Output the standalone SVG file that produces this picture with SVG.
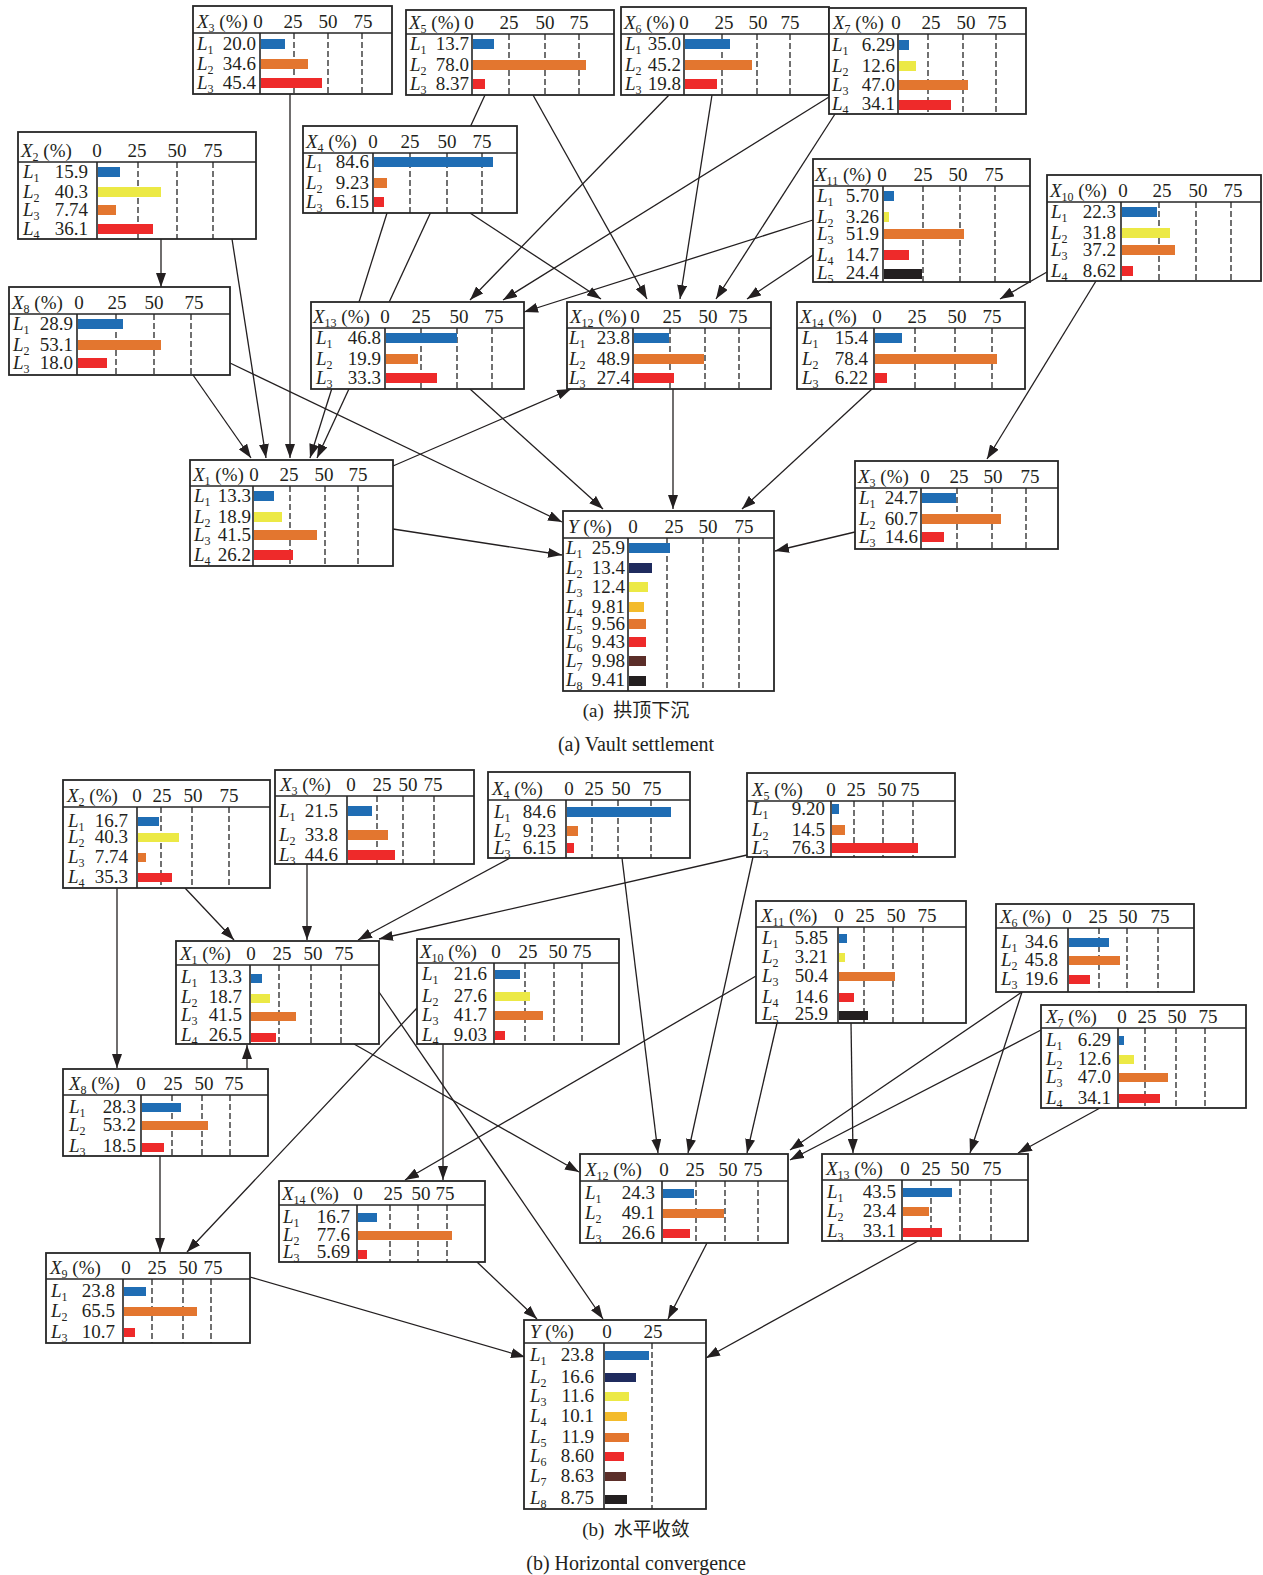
<svg xmlns="http://www.w3.org/2000/svg" width="1263" height="1575" viewBox="0 0 1263 1575">
<defs>
<style>
.box{fill:#fff;stroke:#262626;stroke-width:1.8}
.rule{fill:none;stroke:#262626;stroke-width:1.6}
.dash{fill:none;stroke:#262626;stroke-width:1.3;stroke-dasharray:6 3}
.t{font-family:"Liberation Serif","Times New Roman",serif;font-size:19px;fill:#231f20}
.i{font-style:italic}
.s{font-size:12px}
.e{text-anchor:end}
.m{text-anchor:middle}
.edge{fill:none;stroke:#231f20;stroke-width:1.3;marker-end:url(#arr)}
.cb{fill:#1f6db4}.co{fill:#e3762f}.cr{fill:#ee2a2a}.cy{fill:#ece945}.ck{fill:#231f20}.cn{fill:#1f2b5e}.cg{fill:#f3bb2b}.cw{fill:#5b2e29}
.cap{font-family:"Liberation Serif","Noto Sans CJK SC",serif;font-size:19px;fill:#231f20;text-anchor:middle}
</style>
<marker id="arr" markerWidth="14" markerHeight="10" refX="14" refY="5" orient="auto" markerUnits="userSpaceOnUse"><path d="M0,0L14,5L0,10z" fill="#231f20"/></marker>
</defs>
<rect width="1263" height="1575" fill="#fff"/>

<!-- connectors, panel (a) -->
<g id="edges-a">
<path class="edge" d="M290,94L290,458"/>
<path class="edge" d="M161,239L161,287"/>
<path class="edge" d="M232,239L266,458"/>
<path class="edge" d="M193,375L251,458"/>
<path class="edge" d="M230,363L562,522"/>
<path class="edge" d="M387,213L310,458"/>
<path class="edge" d="M485,95L317,458"/>
<path class="edge" d="M470,213L601,299"/>
<path class="edge" d="M533,95L647,299"/>
<path class="edge" d="M712,95L680,299"/>
<path class="edge" d="M835,114L716,299"/>
<path class="edge" d="M813,255L747,299"/>
<path class="edge" d="M669,95L470,300"/>
<path class="edge" d="M829,97L503,300"/>
<path class="edge" d="M813,220L524,312"/>
<path class="edge" d="M1047,272L1000,299"/>
<path class="edge" d="M1096,281L987,459"/>
<path class="edge" d="M470,389L603,509"/>
<path class="edge" d="M673,389L673,509"/>
<path class="edge" d="M872,389L742,509"/>
<path class="edge" d="M855,532L775,551"/>
<path class="edge" d="M393,529L562,555"/>
<path class="edge" d="M393,466L571,389"/>
</g>

<!-- connectors, panel (b) -->
<g id="edges-b">
<path class="edge" d="M117,888L117,1068"/>
<path class="edge" d="M185,888L234,940"/>
<path class="edge" d="M307,864L307,940"/>
<path class="edge" d="M510,858L358,940"/>
<path class="edge" d="M747,855L379,939"/>
<path class="edge" d="M247,1069L247,1045"/>
<path class="edge" d="M160,1156L160,1252"/>
<path class="edge" d="M417,1008L187,1252"/>
<path class="edge" d="M443,1044L443,1180"/>
<path class="edge" d="M756,976L405,1180"/>
<path class="edge" d="M379,992L603,1319"/>
<path class="edge" d="M354,1044L579,1172"/>
<path class="edge" d="M622,858L658,1153"/>
<path class="edge" d="M753,857L688,1153"/>
<path class="edge" d="M777,1023L747,1153"/>
<path class="edge" d="M851,1023L853,1153"/>
<path class="edge" d="M1022,992L790,1150"/>
<path class="edge" d="M1041,1030L790,1160"/>
<path class="edge" d="M1022,992L970,1153"/>
<path class="edge" d="M1100,1108L1018,1153"/>
<path class="edge" d="M707,1243L668,1319"/>
<path class="edge" d="M918,1241L706,1358"/>
<path class="edge" d="M477,1262L537,1319"/>
<path class="edge" d="M250,1277L525,1357"/>
</g>

<!-- ===== panel (a) nodes ===== -->
<g id="a-x3">
<rect class="box" x="193" y="6" width="199" height="88"/>
<path class="rule" d="M193,33H392M260,33V94"/>
<path class="dash" d="M294,33V94M328,33V94M362,33V94"/>
<rect class="cb" x="261" y="39" width="24" height="10"/><rect class="co" x="261" y="59" width="47" height="10"/><rect class="cr" x="261" y="78" width="61" height="10"/>
<text class="t" x="197" y="28"><tspan class="i">X</tspan><tspan class="s" dy="4">3</tspan><tspan dy="-4"> (%)</tspan></text>
<text class="t m" y="28"><tspan x="258">0</tspan><tspan x="293">25</tspan><tspan x="328">50</tspan><tspan x="363">75</tspan></text>
<text class="t"><tspan class="i" x="197" y="50">L</tspan><tspan class="s" dy="4">1</tspan><tspan class="i" x="197" y="70">L</tspan><tspan class="s" dy="4">2</tspan><tspan class="i" x="197" y="89">L</tspan><tspan class="s" dy="4">3</tspan></text>
<text class="t e"><tspan x="256" y="50">20.0</tspan><tspan x="256" y="70">34.6</tspan><tspan x="256" y="89">45.4</tspan></text>
</g>

<g id="a-x5">
<rect class="box" x="406" y="10" width="208" height="85"/>
<path class="rule" d="M406,34H614M472,34V95"/>
<path class="dash" d="M509,34V95M545,34V95M579,34V95"/>
<rect class="cb" x="473" y="39" width="21" height="10"/><rect class="co" x="473" y="60" width="113" height="10"/><rect class="cr" x="473" y="79" width="12" height="10"/>
<text class="t" x="409" y="29"><tspan class="i">X</tspan><tspan class="s" dy="4">5</tspan><tspan dy="-4"> (%)</tspan></text>
<text class="t m" y="29"><tspan x="469">0</tspan><tspan x="509">25</tspan><tspan x="545">50</tspan><tspan x="579">75</tspan></text>
<text class="t"><tspan class="i" x="410" y="50">L</tspan><tspan class="s" dy="4">1</tspan><tspan class="i" x="410" y="71">L</tspan><tspan class="s" dy="4">2</tspan><tspan class="i" x="410" y="90">L</tspan><tspan class="s" dy="4">3</tspan></text>
<text class="t e"><tspan x="469" y="50">13.7</tspan><tspan x="469" y="71">78.0</tspan><tspan x="469" y="90">8.37</tspan></text>
</g>

<g id="a-x6">
<rect class="box" x="621" y="7" width="208" height="88"/>
<path class="rule" d="M621,34H829M684,34V95"/>
<path class="dash" d="M722,34V95M757,34V95M790,34V95"/>
<rect class="cb" x="685" y="39" width="45" height="10"/><rect class="co" x="685" y="60" width="67" height="10"/><rect class="cr" x="685" y="79" width="32" height="10"/>
<text class="t" x="624" y="29"><tspan class="i">X</tspan><tspan class="s" dy="4">6</tspan><tspan dy="-4"> (%)</tspan></text>
<text class="t m" y="29"><tspan x="684">0</tspan><tspan x="724">25</tspan><tspan x="758">50</tspan><tspan x="790">75</tspan></text>
<text class="t"><tspan class="i" x="625" y="50">L</tspan><tspan class="s" dy="4">1</tspan><tspan class="i" x="625" y="71">L</tspan><tspan class="s" dy="4">2</tspan><tspan class="i" x="625" y="90">L</tspan><tspan class="s" dy="4">3</tspan></text>
<text class="t e"><tspan x="681" y="50">35.0</tspan><tspan x="681" y="71">45.2</tspan><tspan x="681" y="90">19.8</tspan></text>
</g>

<g id="a-x7">
<rect class="box" x="829" y="8" width="197" height="106"/>
<path class="rule" d="M829,34H1026M898,34V114"/>
<path class="dash" d="M928,34V114M963,34V114M996,34V114"/>
<rect class="cb" x="899" y="40" width="10" height="10"/><rect class="cy" x="899" y="61" width="17" height="10"/><rect class="co" x="899" y="80" width="69" height="10"/><rect class="cr" x="899" y="100" width="52" height="10"/>
<text class="t" x="833" y="29"><tspan class="i">X</tspan><tspan class="s" dy="4">7</tspan><tspan dy="-4"> (%)</tspan></text>
<text class="t m" y="29"><tspan x="896">0</tspan><tspan x="931">25</tspan><tspan x="966">50</tspan><tspan x="997">75</tspan></text>
<text class="t"><tspan class="i" x="832" y="51">L</tspan><tspan class="s" dy="4">1</tspan><tspan class="i" x="832" y="72">L</tspan><tspan class="s" dy="4">2</tspan><tspan class="i" x="832" y="91">L</tspan><tspan class="s" dy="4">3</tspan><tspan class="i" x="832" y="110">L</tspan><tspan class="s" dy="4">4</tspan></text>
<text class="t e"><tspan x="895" y="51">6.29</tspan><tspan x="895" y="72">12.6</tspan><tspan x="895" y="91">47.0</tspan><tspan x="895" y="110">34.1</tspan></text>
</g>

<g id="a-x4">
<rect class="box" x="303" y="126" width="214" height="87"/>
<path class="rule" d="M303,153H517M373,153V213"/>
<path class="dash" d="M410,153V213M447,153V213M482,153V213"/>
<rect class="cb" x="374" y="157" width="119" height="10"/><rect class="co" x="374" y="178" width="13" height="10"/><rect class="cr" x="374" y="197" width="10" height="10"/>
<text class="t" x="306" y="148"><tspan class="i">X</tspan><tspan class="s" dy="4">4</tspan><tspan dy="-4"> (%)</tspan></text>
<text class="t m" y="148"><tspan x="373">0</tspan><tspan x="410">25</tspan><tspan x="447">50</tspan><tspan x="482">75</tspan></text>
<text class="t"><tspan class="i" x="306" y="168">L</tspan><tspan class="s" dy="4">1</tspan><tspan class="i" x="306" y="189">L</tspan><tspan class="s" dy="4">2</tspan><tspan class="i" x="306" y="208">L</tspan><tspan class="s" dy="4">3</tspan></text>
<text class="t e"><tspan x="369" y="168">84.6</tspan><tspan x="369" y="189">9.23</tspan><tspan x="369" y="208">6.15</tspan></text>
</g>

<g id="a-x2">
<rect class="box" x="18" y="132" width="238" height="107"/>
<path class="rule" d="M18,162H256M97,162V239"/>
<path class="dash" d="M138,162V239M177,162V239M213,162V239"/>
<rect class="cb" x="98" y="167" width="22" height="10"/><rect class="cy" x="98" y="187" width="63" height="10"/><rect class="co" x="98" y="205" width="18" height="10"/><rect class="cr" x="98" y="224" width="55" height="10"/>
<text class="t" x="21" y="157"><tspan class="i">X</tspan><tspan class="s" dy="4">2</tspan><tspan dy="-4"> (%)</tspan></text>
<text class="t m" y="157"><tspan x="97">0</tspan><tspan x="137">25</tspan><tspan x="177">50</tspan><tspan x="213">75</tspan></text>
<text class="t"><tspan class="i" x="23" y="178">L</tspan><tspan class="s" dy="4">1</tspan><tspan class="i" x="23" y="198">L</tspan><tspan class="s" dy="4">2</tspan><tspan class="i" x="23" y="216">L</tspan><tspan class="s" dy="4">3</tspan><tspan class="i" x="23" y="235">L</tspan><tspan class="s" dy="4">4</tspan></text>
<text class="t e"><tspan x="88" y="178">15.9</tspan><tspan x="88" y="198">40.3</tspan><tspan x="88" y="216">7.74</tspan><tspan x="88" y="235">36.1</tspan></text>
</g>

<g id="a-x8">
<rect class="box" x="9" y="287" width="221" height="88"/>
<path class="rule" d="M9,314H230M77,314V375"/>
<path class="dash" d="M116,314V375M154,314V375M191,314V375"/>
<rect class="cb" x="78" y="319" width="45" height="10"/><rect class="co" x="78" y="340" width="83" height="10"/><rect class="cr" x="78" y="358" width="29" height="10"/>
<text class="t" x="12" y="309"><tspan class="i">X</tspan><tspan class="s" dy="4">8</tspan><tspan dy="-4"> (%)</tspan></text>
<text class="t m" y="309"><tspan x="79">0</tspan><tspan x="117">25</tspan><tspan x="154">50</tspan><tspan x="194">75</tspan></text>
<text class="t"><tspan class="i" x="13" y="330">L</tspan><tspan class="s" dy="4">1</tspan><tspan class="i" x="13" y="351">L</tspan><tspan class="s" dy="4">2</tspan><tspan class="i" x="13" y="369">L</tspan><tspan class="s" dy="4">3</tspan></text>
<text class="t e"><tspan x="73" y="330">28.9</tspan><tspan x="73" y="351">53.1</tspan><tspan x="73" y="369">18.0</tspan></text>
</g>

<g id="a-x13">
<rect class="box" x="311" y="302" width="213" height="87"/>
<path class="rule" d="M311,328H524M385,328V389"/>
<path class="dash" d="M421,328V389M457,328V389M492,328V389"/>
<rect class="cb" x="386" y="333" width="71" height="10"/><rect class="co" x="386" y="354" width="32" height="10"/><rect class="cr" x="386" y="373" width="51" height="10"/>
<text class="t" x="313" y="323"><tspan class="i">X</tspan><tspan class="s" dy="4">13</tspan><tspan dy="-4"> (%)</tspan></text>
<text class="t m" y="323"><tspan x="385">0</tspan><tspan x="421">25</tspan><tspan x="459">50</tspan><tspan x="494">75</tspan></text>
<text class="t"><tspan class="i" x="316" y="344">L</tspan><tspan class="s" dy="4">1</tspan><tspan class="i" x="316" y="365">L</tspan><tspan class="s" dy="4">2</tspan><tspan class="i" x="316" y="384">L</tspan><tspan class="s" dy="4">3</tspan></text>
<text class="t e"><tspan x="381" y="344">46.8</tspan><tspan x="381" y="365">19.9</tspan><tspan x="381" y="384">33.3</tspan></text>
</g>

<g id="a-x1">
<rect class="box" x="190" y="460" width="203" height="106"/>
<path class="rule" d="M190,486H393M253,486V566"/>
<path class="dash" d="M290,486V566M325,486V566M358,486V566"/>
<rect class="cb" x="254" y="491" width="20" height="10"/><rect class="cy" x="254" y="512" width="28" height="10"/><rect class="co" x="254" y="530" width="63" height="10"/><rect class="cr" x="254" y="550" width="39" height="10"/>
<text class="t" x="193" y="481"><tspan class="i">X</tspan><tspan class="s" dy="4">1</tspan><tspan dy="-4"> (%)</tspan></text>
<text class="t m" y="481"><tspan x="254">0</tspan><tspan x="289">25</tspan><tspan x="324">50</tspan><tspan x="358">75</tspan></text>
<text class="t"><tspan class="i" x="194" y="502">L</tspan><tspan class="s" dy="4">1</tspan><tspan class="i" x="194" y="523">L</tspan><tspan class="s" dy="4">2</tspan><tspan class="i" x="194" y="541">L</tspan><tspan class="s" dy="4">3</tspan><tspan class="i" x="194" y="561">L</tspan><tspan class="s" dy="4">4</tspan></text>
<text class="t e"><tspan x="251" y="502">13.3</tspan><tspan x="251" y="523">18.9</tspan><tspan x="251" y="541">41.5</tspan><tspan x="251" y="561">26.2</tspan></text>
</g>

<g id="a-x12">
<rect class="box" x="567" y="302" width="204" height="87"/>
<path class="rule" d="M567,328H771M633,328V389"/>
<path class="dash" d="M670,328V389M705,328V389M739,328V389"/>
<rect class="cb" x="634" y="333" width="35" height="10"/><rect class="co" x="634" y="354" width="70" height="10"/><rect class="cr" x="634" y="373" width="40" height="10"/>
<text class="t" x="570" y="323"><tspan class="i">X</tspan><tspan class="s" dy="4">12</tspan><tspan dy="-4"> (%)</tspan></text>
<text class="t m" y="323"><tspan x="635">0</tspan><tspan x="672">25</tspan><tspan x="708">50</tspan><tspan x="738">75</tspan></text>
<text class="t"><tspan class="i" x="569" y="344">L</tspan><tspan class="s" dy="4">1</tspan><tspan class="i" x="569" y="365">L</tspan><tspan class="s" dy="4">2</tspan><tspan class="i" x="569" y="384">L</tspan><tspan class="s" dy="4">3</tspan></text>
<text class="t e"><tspan x="630" y="344">23.8</tspan><tspan x="630" y="365">48.9</tspan><tspan x="630" y="384">27.4</tspan></text>
</g>

<g id="a-x14">
<rect class="box" x="797" y="302" width="228" height="87"/>
<path class="rule" d="M797,328H1025M874,328V389"/>
<path class="dash" d="M915,328V389M955,328V389M992,328V389"/>
<rect class="cb" x="875" y="333" width="27" height="10"/><rect class="co" x="875" y="354" width="122" height="10"/><rect class="cr" x="875" y="373" width="12" height="10"/>
<text class="t" x="800" y="323"><tspan class="i">X</tspan><tspan class="s" dy="4">14</tspan><tspan dy="-4"> (%)</tspan></text>
<text class="t m" y="323"><tspan x="877">0</tspan><tspan x="917">25</tspan><tspan x="957">50</tspan><tspan x="992">75</tspan></text>
<text class="t"><tspan class="i" x="802" y="344">L</tspan><tspan class="s" dy="4">1</tspan><tspan class="i" x="802" y="365">L</tspan><tspan class="s" dy="4">2</tspan><tspan class="i" x="802" y="384">L</tspan><tspan class="s" dy="4">3</tspan></text>
<text class="t e"><tspan x="868" y="344">15.4</tspan><tspan x="868" y="365">78.4</tspan><tspan x="868" y="384">6.22</tspan></text>
</g>

<g id="a-y">
<rect class="box" x="563" y="511" width="211" height="180"/>
<path class="rule" d="M563,538H774M628,538V691"/>
<path class="dash" d="M667,538V691M703,538V691M739,538V691"/>
<rect class="cb" x="629" y="543" width="41" height="10"/><rect class="cn" x="629" y="563" width="23" height="10"/><rect class="cy" x="629" y="582" width="19" height="10"/><rect class="cg" x="629" y="602" width="15" height="10"/><rect class="co" x="629" y="619" width="17" height="10"/><rect class="cr" x="629" y="637" width="17" height="10"/><rect class="cw" x="629" y="656" width="17" height="10"/><rect class="ck" x="629" y="676" width="17" height="10"/>
<text class="t" x="568" y="533"><tspan class="i">Y</tspan><tspan> (%)</tspan></text>
<text class="t m" y="533"><tspan x="633">0</tspan><tspan x="674">25</tspan><tspan x="708">50</tspan><tspan x="744">75</tspan></text>
<text class="t"><tspan class="i" x="566" y="554">L</tspan><tspan class="s" dy="4">1</tspan><tspan class="i" x="566" y="574">L</tspan><tspan class="s" dy="4">2</tspan><tspan class="i" x="566" y="593">L</tspan><tspan class="s" dy="4">3</tspan><tspan class="i" x="566" y="613">L</tspan><tspan class="s" dy="4">4</tspan><tspan class="i" x="566" y="630">L</tspan><tspan class="s" dy="4">5</tspan><tspan class="i" x="566" y="648">L</tspan><tspan class="s" dy="4">6</tspan><tspan class="i" x="566" y="667">L</tspan><tspan class="s" dy="4">7</tspan><tspan class="i" x="566" y="686">L</tspan><tspan class="s" dy="4">8</tspan></text>
<text class="t e"><tspan x="625" y="554">25.9</tspan><tspan x="625" y="574">13.4</tspan><tspan x="625" y="593">12.4</tspan><tspan x="625" y="613">9.81</tspan><tspan x="625" y="630">9.56</tspan><tspan x="625" y="648">9.43</tspan><tspan x="625" y="667">9.98</tspan><tspan x="625" y="686">9.41</tspan></text>
</g>

<g id="a-x3b">
<rect class="box" x="855" y="461" width="203" height="88"/>
<path class="rule" d="M855,488H1058M921,488V549"/>
<path class="dash" d="M957,488V549M992,488V549M1026,488V549"/>
<rect class="cb" x="922" y="493" width="34" height="10"/><rect class="co" x="922" y="514" width="79" height="10"/><rect class="cr" x="922" y="532" width="22" height="10"/>
<text class="t" x="858" y="483"><tspan class="i">X</tspan><tspan class="s" dy="4">3</tspan><tspan dy="-4"> (%)</tspan></text>
<text class="t m" y="483"><tspan x="925">0</tspan><tspan x="959">25</tspan><tspan x="993">50</tspan><tspan x="1030">75</tspan></text>
<text class="t"><tspan class="i" x="859" y="504">L</tspan><tspan class="s" dy="4">1</tspan><tspan class="i" x="859" y="525">L</tspan><tspan class="s" dy="4">2</tspan><tspan class="i" x="859" y="543">L</tspan><tspan class="s" dy="4">3</tspan></text>
<text class="t e"><tspan x="918" y="504">24.7</tspan><tspan x="918" y="525">60.7</tspan><tspan x="918" y="543">14.6</tspan></text>
</g>

<g id="a-x11">
<rect class="box" x="813" y="159" width="217" height="123"/>
<path class="rule" d="M813,186H1030M883,186V282"/>
<path class="dash" d="M923,186V282M960,186V282M995,186V282"/>
<rect class="cb" x="884" y="191" width="10" height="10"/><rect class="cy" x="884" y="212" width="5" height="10"/><rect class="co" x="884" y="229" width="80" height="10"/><rect class="cr" x="884" y="250" width="25" height="10"/><rect class="ck" x="884" y="269" width="38" height="10"/>
<text class="t" x="815" y="181"><tspan class="i">X</tspan><tspan class="s" dy="4">11</tspan><tspan dy="-4"> (%)</tspan></text>
<text class="t m" y="181"><tspan x="882">0</tspan><tspan x="923">25</tspan><tspan x="958">50</tspan><tspan x="994">75</tspan></text>
<text class="t"><tspan class="i" x="817" y="202">L</tspan><tspan class="s" dy="4">1</tspan><tspan class="i" x="817" y="223">L</tspan><tspan class="s" dy="4">2</tspan><tspan class="i" x="817" y="240">L</tspan><tspan class="s" dy="4">3</tspan><tspan class="i" x="817" y="261">L</tspan><tspan class="s" dy="4">4</tspan><tspan class="i" x="817" y="279">L</tspan><tspan class="s" dy="4">5</tspan></text>
<text class="t e"><tspan x="879" y="202">5.70</tspan><tspan x="879" y="223">3.26</tspan><tspan x="879" y="240">51.9</tspan><tspan x="879" y="261">14.7</tspan><tspan x="879" y="279">24.4</tspan></text>
</g>

<g id="a-x10">
<rect class="box" x="1047" y="175" width="214" height="106"/>
<path class="rule" d="M1047,202H1261M1121,202V281"/>
<path class="dash" d="M1159,202V281M1196,202V281M1231,202V281"/>
<rect class="cb" x="1122" y="207" width="35" height="10"/><rect class="cy" x="1122" y="228" width="48" height="10"/><rect class="co" x="1122" y="245" width="53" height="10"/><rect class="cr" x="1122" y="266" width="11" height="10"/>
<text class="t" x="1050" y="197"><tspan class="i">X</tspan><tspan class="s" dy="4">10</tspan><tspan dy="-4"> (%)</tspan></text>
<text class="t m" y="197"><tspan x="1123">0</tspan><tspan x="1162">25</tspan><tspan x="1198">50</tspan><tspan x="1233">75</tspan></text>
<text class="t"><tspan class="i" x="1051" y="218">L</tspan><tspan class="s" dy="4">1</tspan><tspan class="i" x="1051" y="239">L</tspan><tspan class="s" dy="4">2</tspan><tspan class="i" x="1051" y="256">L</tspan><tspan class="s" dy="4">3</tspan><tspan class="i" x="1051" y="277">L</tspan><tspan class="s" dy="4">4</tspan></text>
<text class="t e"><tspan x="1116" y="218">22.3</tspan><tspan x="1116" y="239">31.8</tspan><tspan x="1116" y="256">37.2</tspan><tspan x="1116" y="277">8.62</tspan></text>
</g>

<text class="cap" x="636" y="717">(a)&#160;&#160;拱顶下沉</text>
<text class="cap" x="636" y="751" style="font-size:20px">(a) Vault settlement</text>

<!-- ===== panel (b) nodes ===== -->
<g id="b-x2">
<rect class="box" x="63" y="780" width="207" height="108"/>
<path class="rule" d="M63,807H270M137,807V888"/>
<path class="dash" d="M161,807V888M192,807V888M229,807V888"/>
<rect class="cb" x="138" y="817" width="21" height="9"/><rect class="cy" x="138" y="833" width="41" height="9"/><rect class="co" x="138" y="853" width="8" height="9"/><rect class="cr" x="138" y="873" width="34" height="9"/>
<text class="t" x="67" y="802"><tspan class="i">X</tspan><tspan class="s" dy="4">2</tspan><tspan dy="-4"> (%)</tspan></text>
<text class="t m" y="802"><tspan x="137">0</tspan><tspan x="162">25</tspan><tspan x="193">50</tspan><tspan x="229">75</tspan></text>
<text class="t"><tspan class="i" x="68" y="827">L</tspan><tspan class="s" dy="4">1</tspan><tspan class="i" x="68" y="843">L</tspan><tspan class="s" dy="4">2</tspan><tspan class="i" x="68" y="863">L</tspan><tspan class="s" dy="4">3</tspan><tspan class="i" x="68" y="883">L</tspan><tspan class="s" dy="4">4</tspan></text>
<text class="t e"><tspan x="128" y="827">16.7</tspan><tspan x="128" y="843">40.3</tspan><tspan x="128" y="863">7.74</tspan><tspan x="128" y="883">35.3</tspan></text>
</g>

<g id="b-x3">
<rect class="box" x="275" y="770" width="199" height="94"/>
<path class="rule" d="M275,796H474M347,796V864"/>
<path class="dash" d="M377,796V864M403,796V864M434,796V864"/>
<rect class="cb" x="348" y="806" width="24" height="10"/><rect class="co" x="348" y="830" width="40" height="10"/><rect class="cr" x="348" y="850" width="47" height="10"/>
<text class="t" x="280" y="791"><tspan class="i">X</tspan><tspan class="s" dy="4">3</tspan><tspan dy="-4"> (%)</tspan></text>
<text class="t m" y="791"><tspan x="351">0</tspan><tspan x="382">25</tspan><tspan x="408">50</tspan><tspan x="433">75</tspan></text>
<text class="t"><tspan class="i" x="279" y="817">L</tspan><tspan class="s" dy="4">1</tspan><tspan class="i" x="279" y="841">L</tspan><tspan class="s" dy="4">2</tspan><tspan class="i" x="279" y="861">L</tspan><tspan class="s" dy="4">3</tspan></text>
<text class="t e"><tspan x="338" y="817">21.5</tspan><tspan x="338" y="841">33.8</tspan><tspan x="338" y="861">44.6</tspan></text>
</g>

<g id="b-x4">
<rect class="box" x="488" y="772" width="202" height="86"/>
<path class="rule" d="M488,800H690M566,800V858"/>
<path class="dash" d="M592,800V858M618,800V858M651,800V858"/>
<rect class="cb" x="567" y="807" width="104" height="10"/><rect class="co" x="567" y="826" width="11" height="10"/><rect class="cr" x="567" y="843" width="7" height="10"/>
<text class="t" x="492" y="795"><tspan class="i">X</tspan><tspan class="s" dy="4">4</tspan><tspan dy="-4"> (%)</tspan></text>
<text class="t m" y="795"><tspan x="569">0</tspan><tspan x="594">25</tspan><tspan x="621">50</tspan><tspan x="652">75</tspan></text>
<text class="t"><tspan class="i" x="494" y="818">L</tspan><tspan class="s" dy="4">1</tspan><tspan class="i" x="494" y="837">L</tspan><tspan class="s" dy="4">2</tspan><tspan class="i" x="494" y="854">L</tspan><tspan class="s" dy="4">3</tspan></text>
<text class="t e"><tspan x="556" y="818">84.6</tspan><tspan x="556" y="837">9.23</tspan><tspan x="556" y="854">6.15</tspan></text>
</g>

<g id="b-x5">
<rect class="box" x="747" y="773" width="208" height="84"/>
<path class="rule" d="M747,801H955M831,801V857"/>
<path class="dash" d="M854,801V857M883,801V857M913,801V857"/>
<rect class="cb" x="832" y="804" width="7" height="10"/><rect class="co" x="832" y="825" width="13" height="10"/><rect class="cr" x="832" y="843" width="86" height="10"/>
<text class="t" x="752" y="796"><tspan class="i">X</tspan><tspan class="s" dy="4">5</tspan><tspan dy="-4"> (%)</tspan></text>
<text class="t m" y="796"><tspan x="831">0</tspan><tspan x="856">25</tspan><tspan x="887">50</tspan><tspan x="910">75</tspan></text>
<text class="t"><tspan class="i" x="752" y="815">L</tspan><tspan class="s" dy="4">1</tspan><tspan class="i" x="752" y="836">L</tspan><tspan class="s" dy="4">2</tspan><tspan class="i" x="752" y="854">L</tspan><tspan class="s" dy="4">3</tspan></text>
<text class="t e"><tspan x="825" y="815">9.20</tspan><tspan x="825" y="836">14.5</tspan><tspan x="825" y="854">76.3</tspan></text>
</g>

<g id="b-x1">
<rect class="box" x="176" y="941" width="203" height="103"/>
<path class="rule" d="M176,965H379M250,965V1044"/>
<path class="dash" d="M279,965V1044M311,965V1044M341,965V1044"/>
<rect class="cb" x="251" y="974" width="11" height="9"/><rect class="cy" x="251" y="994" width="19" height="9"/><rect class="co" x="251" y="1012" width="45" height="9"/><rect class="cr" x="251" y="1033" width="25" height="9"/>
<text class="t" x="180" y="960"><tspan class="i">X</tspan><tspan class="s" dy="4">1</tspan><tspan dy="-4"> (%)</tspan></text>
<text class="t m" y="960"><tspan x="251">0</tspan><tspan x="282">25</tspan><tspan x="313">50</tspan><tspan x="344">75</tspan></text>
<text class="t"><tspan class="i" x="181" y="983">L</tspan><tspan class="s" dy="4">1</tspan><tspan class="i" x="181" y="1003">L</tspan><tspan class="s" dy="4">2</tspan><tspan class="i" x="181" y="1021">L</tspan><tspan class="s" dy="4">3</tspan><tspan class="i" x="181" y="1041">L</tspan><tspan class="s" dy="4">4</tspan></text>
<text class="t e"><tspan x="242" y="983">13.3</tspan><tspan x="242" y="1003">18.7</tspan><tspan x="242" y="1021">41.5</tspan><tspan x="242" y="1041">26.5</tspan></text>
</g>

<g id="b-x10">
<rect class="box" x="417" y="939" width="202" height="105"/>
<path class="rule" d="M417,963H619M494,963V1044"/>
<path class="dash" d="M525,963V1044M554,963V1044M582,963V1044"/>
<rect class="cb" x="495" y="970" width="25" height="9"/><rect class="cy" x="495" y="992" width="35" height="9"/><rect class="co" x="495" y="1011" width="48" height="9"/><rect class="cr" x="495" y="1031" width="10" height="9"/>
<text class="t" x="420" y="958"><tspan class="i">X</tspan><tspan class="s" dy="4">10</tspan><tspan dy="-4"> (%)</tspan></text>
<text class="t m" y="958"><tspan x="496">0</tspan><tspan x="528">25</tspan><tspan x="558">50</tspan><tspan x="582">75</tspan></text>
<text class="t"><tspan class="i" x="422" y="980">L</tspan><tspan class="s" dy="4">1</tspan><tspan class="i" x="422" y="1002">L</tspan><tspan class="s" dy="4">2</tspan><tspan class="i" x="422" y="1021">L</tspan><tspan class="s" dy="4">3</tspan><tspan class="i" x="422" y="1041">L</tspan><tspan class="s" dy="4">4</tspan></text>
<text class="t e"><tspan x="487" y="980">21.6</tspan><tspan x="487" y="1002">27.6</tspan><tspan x="487" y="1021">41.7</tspan><tspan x="487" y="1041">9.03</tspan></text>
</g>

<g id="b-x11">
<rect class="box" x="756" y="901" width="210" height="122"/>
<path class="rule" d="M756,927H966M838,927V1023"/>
<path class="dash" d="M864,927V1023M893,927V1023M923,927V1023"/>
<rect class="cb" x="839" y="934" width="8" height="9"/><rect class="cy" x="839" y="953" width="6" height="9"/><rect class="co" x="839" y="972" width="56" height="9"/><rect class="cr" x="839" y="993" width="15" height="9"/><rect class="ck" x="839" y="1011" width="29" height="9"/>
<text class="t" x="761" y="922"><tspan class="i">X</tspan><tspan class="s" dy="4">11</tspan><tspan dy="-4"> (%)</tspan></text>
<text class="t m" y="922"><tspan x="839">0</tspan><tspan x="865">25</tspan><tspan x="896">50</tspan><tspan x="927">75</tspan></text>
<text class="t"><tspan class="i" x="762" y="944">L</tspan><tspan class="s" dy="4">1</tspan><tspan class="i" x="762" y="963">L</tspan><tspan class="s" dy="4">2</tspan><tspan class="i" x="762" y="982">L</tspan><tspan class="s" dy="4">3</tspan><tspan class="i" x="762" y="1003">L</tspan><tspan class="s" dy="4">4</tspan><tspan class="i" x="762" y="1020">L</tspan><tspan class="s" dy="4">5</tspan></text>
<text class="t e"><tspan x="828" y="944">5.85</tspan><tspan x="828" y="963">3.21</tspan><tspan x="828" y="982">50.4</tspan><tspan x="828" y="1003">14.6</tspan><tspan x="828" y="1020">25.9</tspan></text>
</g>

<g id="b-x6">
<rect class="box" x="996" y="904" width="198" height="88"/>
<path class="rule" d="M996,928H1194M1068,928V992"/>
<path class="dash" d="M1099,928V992M1127,928V992M1158,928V992"/>
<rect class="cb" x="1069" y="938" width="40" height="9"/><rect class="co" x="1069" y="956" width="51" height="9"/><rect class="cr" x="1069" y="975" width="21" height="9"/>
<text class="t" x="1000" y="923"><tspan class="i">X</tspan><tspan class="s" dy="4">6</tspan><tspan dy="-4"> (%)</tspan></text>
<text class="t m" y="923"><tspan x="1067">0</tspan><tspan x="1098">25</tspan><tspan x="1128">50</tspan><tspan x="1160">75</tspan></text>
<text class="t"><tspan class="i" x="1001" y="948">L</tspan><tspan class="s" dy="4">1</tspan><tspan class="i" x="1001" y="966">L</tspan><tspan class="s" dy="4">2</tspan><tspan class="i" x="1001" y="985">L</tspan><tspan class="s" dy="4">3</tspan></text>
<text class="t e"><tspan x="1058" y="948">34.6</tspan><tspan x="1058" y="966">45.8</tspan><tspan x="1058" y="985">19.6</tspan></text>
</g>

<g id="b-x7">
<rect class="box" x="1041" y="1005" width="205" height="103"/>
<path class="rule" d="M1041,1028H1246M1118,1028V1108"/>
<path class="dash" d="M1145,1028V1108M1176,1028V1108M1205,1028V1108"/>
<rect class="cb" x="1119" y="1036" width="5" height="9"/><rect class="cy" x="1119" y="1055" width="15" height="9"/><rect class="co" x="1119" y="1073" width="49" height="9"/><rect class="cr" x="1119" y="1094" width="41" height="9"/>
<text class="t" x="1046" y="1023"><tspan class="i">X</tspan><tspan class="s" dy="4">7</tspan><tspan dy="-4"> (%)</tspan></text>
<text class="t m" y="1023"><tspan x="1122">0</tspan><tspan x="1147">25</tspan><tspan x="1177">50</tspan><tspan x="1208">75</tspan></text>
<text class="t"><tspan class="i" x="1046" y="1046">L</tspan><tspan class="s" dy="4">1</tspan><tspan class="i" x="1046" y="1065">L</tspan><tspan class="s" dy="4">2</tspan><tspan class="i" x="1046" y="1083">L</tspan><tspan class="s" dy="4">3</tspan><tspan class="i" x="1046" y="1104">L</tspan><tspan class="s" dy="4">4</tspan></text>
<text class="t e"><tspan x="1111" y="1046">6.29</tspan><tspan x="1111" y="1065">12.6</tspan><tspan x="1111" y="1083">47.0</tspan><tspan x="1111" y="1104">34.1</tspan></text>
</g>

<g id="b-x8">
<rect class="box" x="63" y="1069" width="205" height="87"/>
<path class="rule" d="M63,1095H268M141,1095V1156"/>
<path class="dash" d="M172,1095V1156M202,1095V1156M230,1095V1156"/>
<rect class="cb" x="142" y="1103" width="39" height="9"/><rect class="co" x="142" y="1121" width="66" height="9"/><rect class="cr" x="142" y="1143" width="22" height="9"/>
<text class="t" x="69" y="1090"><tspan class="i">X</tspan><tspan class="s" dy="4">8</tspan><tspan dy="-4"> (%)</tspan></text>
<text class="t m" y="1090"><tspan x="141">0</tspan><tspan x="173">25</tspan><tspan x="204">50</tspan><tspan x="234">75</tspan></text>
<text class="t"><tspan class="i" x="69" y="1113">L</tspan><tspan class="s" dy="4">1</tspan><tspan class="i" x="69" y="1131">L</tspan><tspan class="s" dy="4">2</tspan><tspan class="i" x="69" y="1152">L</tspan><tspan class="s" dy="4">3</tspan></text>
<text class="t e"><tspan x="136" y="1113">28.3</tspan><tspan x="136" y="1131">53.2</tspan><tspan x="136" y="1152">18.5</tspan></text>
</g>

<g id="b-x14">
<rect class="box" x="279" y="1181" width="206" height="81"/>
<path class="rule" d="M279,1205H485M357,1205V1262"/>
<path class="dash" d="M390,1205V1262M418,1205V1262M447,1205V1262"/>
<rect class="cb" x="358" y="1213" width="19" height="9"/><rect class="co" x="358" y="1231" width="94" height="9"/><rect class="cr" x="358" y="1250" width="9" height="9"/>
<text class="t" x="282" y="1200"><tspan class="i">X</tspan><tspan class="s" dy="4">14</tspan><tspan dy="-4"> (%)</tspan></text>
<text class="t m" y="1200"><tspan x="358">0</tspan><tspan x="393">25</tspan><tspan x="421">50</tspan><tspan x="445">75</tspan></text>
<text class="t"><tspan class="i" x="283" y="1223">L</tspan><tspan class="s" dy="4">1</tspan><tspan class="i" x="283" y="1241">L</tspan><tspan class="s" dy="4">2</tspan><tspan class="i" x="283" y="1258">L</tspan><tspan class="s" dy="4">3</tspan></text>
<text class="t e"><tspan x="350" y="1223">16.7</tspan><tspan x="350" y="1241">77.6</tspan><tspan x="350" y="1258">5.69</tspan></text>
</g>

<g id="b-x12">
<rect class="box" x="580" y="1154" width="208" height="89"/>
<path class="rule" d="M580,1181H788M662,1181V1243"/>
<path class="dash" d="M696,1181V1243M725,1181V1243M758,1181V1243"/>
<rect class="cb" x="663" y="1189" width="31" height="9"/><rect class="co" x="663" y="1209" width="61" height="9"/><rect class="cr" x="663" y="1229" width="27" height="9"/>
<text class="t" x="585" y="1176"><tspan class="i">X</tspan><tspan class="s" dy="4">12</tspan><tspan dy="-4"> (%)</tspan></text>
<text class="t m" y="1176"><tspan x="664">0</tspan><tspan x="695">25</tspan><tspan x="728">50</tspan><tspan x="753">75</tspan></text>
<text class="t"><tspan class="i" x="585" y="1199">L</tspan><tspan class="s" dy="4">1</tspan><tspan class="i" x="585" y="1219">L</tspan><tspan class="s" dy="4">2</tspan><tspan class="i" x="585" y="1239">L</tspan><tspan class="s" dy="4">3</tspan></text>
<text class="t e"><tspan x="655" y="1199">24.3</tspan><tspan x="655" y="1219">49.1</tspan><tspan x="655" y="1239">26.6</tspan></text>
</g>

<g id="b-x13">
<rect class="box" x="822" y="1154" width="206" height="87"/>
<path class="rule" d="M822,1180H1028M902,1180V1241"/>
<path class="dash" d="M931,1180V1241M960,1180V1241M991,1180V1241"/>
<rect class="cb" x="903" y="1188" width="49" height="9"/><rect class="co" x="903" y="1207" width="26" height="9"/><rect class="cr" x="903" y="1228" width="39" height="9"/>
<text class="t" x="826" y="1175"><tspan class="i">X</tspan><tspan class="s" dy="4">13</tspan><tspan dy="-4"> (%)</tspan></text>
<text class="t m" y="1175"><tspan x="905">0</tspan><tspan x="931">25</tspan><tspan x="960">50</tspan><tspan x="992">75</tspan></text>
<text class="t"><tspan class="i" x="827" y="1198">L</tspan><tspan class="s" dy="4">1</tspan><tspan class="i" x="827" y="1217">L</tspan><tspan class="s" dy="4">2</tspan><tspan class="i" x="827" y="1237">L</tspan><tspan class="s" dy="4">3</tspan></text>
<text class="t e"><tspan x="896" y="1198">43.5</tspan><tspan x="896" y="1217">23.4</tspan><tspan x="896" y="1237">33.1</tspan></text>
</g>

<g id="b-x9">
<rect class="box" x="46" y="1253" width="204" height="90"/>
<path class="rule" d="M46,1279H250M123,1279V1343"/>
<path class="dash" d="M152,1279V1343M183,1279V1343M211,1279V1343"/>
<rect class="cb" x="124" y="1287" width="22" height="9"/><rect class="co" x="124" y="1307" width="73" height="9"/><rect class="cr" x="124" y="1328" width="11" height="9"/>
<text class="t" x="50" y="1274"><tspan class="i">X</tspan><tspan class="s" dy="4">9</tspan><tspan dy="-4"> (%)</tspan></text>
<text class="t m" y="1274"><tspan x="126">0</tspan><tspan x="157">25</tspan><tspan x="188">50</tspan><tspan x="213">75</tspan></text>
<text class="t"><tspan class="i" x="51" y="1297">L</tspan><tspan class="s" dy="4">1</tspan><tspan class="i" x="51" y="1317">L</tspan><tspan class="s" dy="4">2</tspan><tspan class="i" x="51" y="1338">L</tspan><tspan class="s" dy="4">3</tspan></text>
<text class="t e"><tspan x="115" y="1297">23.8</tspan><tspan x="115" y="1317">65.5</tspan><tspan x="115" y="1338">10.7</tspan></text>
</g>

<g id="b-y">
<rect class="box" x="524" y="1320" width="182" height="189"/>
<path class="rule" d="M524,1343H706M604,1343V1509"/>
<path class="dash" d="M652,1343V1509"/>
<rect class="cb" x="605" y="1351" width="44" height="9"/><rect class="cn" x="605" y="1373" width="31" height="9"/><rect class="cy" x="605" y="1392" width="24" height="9"/><rect class="cg" x="605" y="1412" width="22" height="9"/><rect class="co" x="605" y="1433" width="24" height="9"/><rect class="cr" x="605" y="1452" width="19" height="9"/><rect class="cw" x="605" y="1472" width="21" height="9"/><rect class="ck" x="605" y="1495" width="22" height="9"/>
<text class="t" x="530" y="1338"><tspan class="i">Y</tspan><tspan> (%)</tspan></text>
<text class="t m" y="1338"><tspan x="607">0</tspan><tspan x="653">25</tspan></text>
<text class="t"><tspan class="i" x="530" y="1361">L</tspan><tspan class="s" dy="4">1</tspan><tspan class="i" x="530" y="1383">L</tspan><tspan class="s" dy="4">2</tspan><tspan class="i" x="530" y="1402">L</tspan><tspan class="s" dy="4">3</tspan><tspan class="i" x="530" y="1422">L</tspan><tspan class="s" dy="4">4</tspan><tspan class="i" x="530" y="1443">L</tspan><tspan class="s" dy="4">5</tspan><tspan class="i" x="530" y="1462">L</tspan><tspan class="s" dy="4">6</tspan><tspan class="i" x="530" y="1482">L</tspan><tspan class="s" dy="4">7</tspan><tspan class="i" x="530" y="1504">L</tspan><tspan class="s" dy="4">8</tspan></text>
<text class="t e"><tspan x="594" y="1361">23.8</tspan><tspan x="594" y="1383">16.6</tspan><tspan x="594" y="1402">11.6</tspan><tspan x="594" y="1422">10.1</tspan><tspan x="594" y="1443">11.9</tspan><tspan x="594" y="1462">8.60</tspan><tspan x="594" y="1482">8.63</tspan><tspan x="594" y="1504">8.75</tspan></text>
</g>

<text class="cap" x="636" y="1536">(b)&#160;&#160;水平收敛</text>
<text class="cap" x="636" y="1570" style="font-size:20px">(b) Horizontal convergence</text>
</svg>
